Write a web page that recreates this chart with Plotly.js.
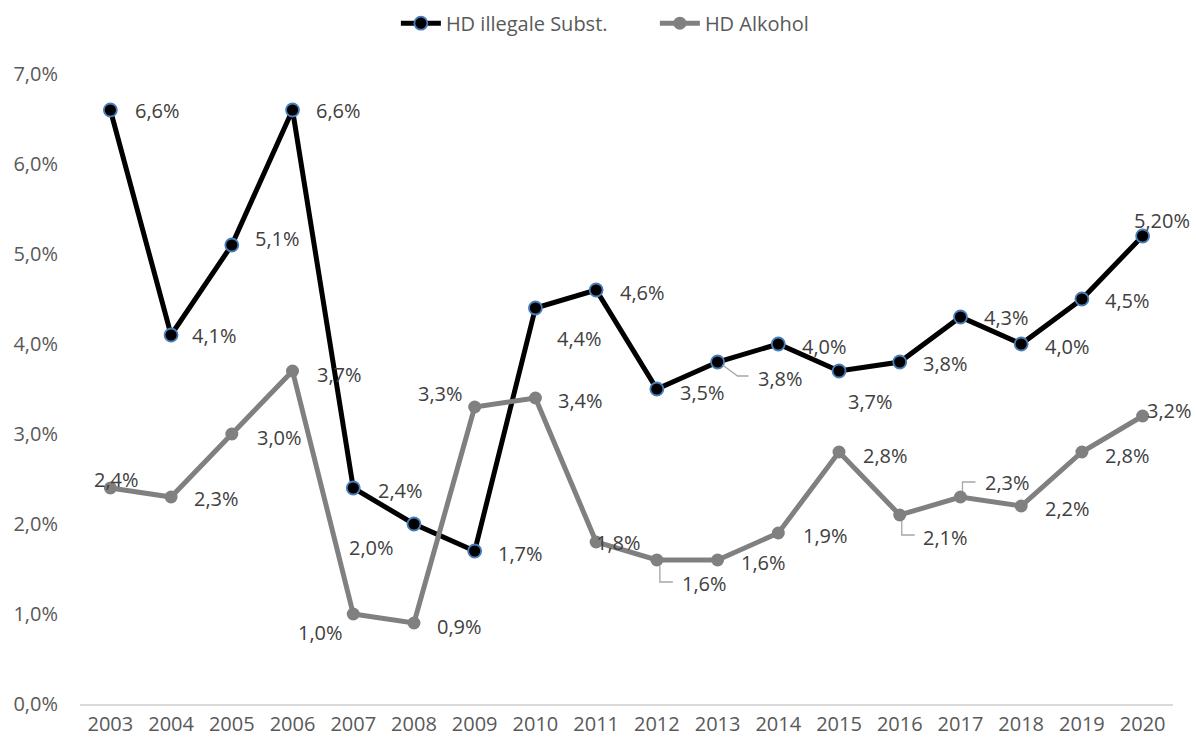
<!DOCTYPE html>
<html>
<head>
<meta charset="utf-8">
<script src="https://cdn.plot.ly/plotly-3.0.1.min.js"></script>
<style>html,body{margin:0;padding:0;background:#fff;}#chart{width:1196px;height:744px;}</style>
</head>
<body>
<div id="chart"></div>
<script>
// ---- data ----
const years = [2003, 2004, 2005, 2006, 2007, 2008, 2009, 2010, 2011, 2012, 2013, 2014, 2015, 2016, 2017, 2018, 2019, 2020];
const illegal = [6.6, 4.1, 5.1, 6.6, 2.4, 2.0, 1.7, 4.4, 4.6, 3.5, 3.8, 4.0, 3.7, 3.8, 4.3, 4.0, 4.5, 5.2];
const alkohol = [2.4, 2.3, 3.0, 3.7, 1.0, 0.9, 3.3, 3.4, 1.8, 1.6, 1.6, 1.9, 2.8, 2.1, 2.3, 2.2, 2.8, 3.2];
const illegalLabels = ["6,6%", "4,1%", "5,1%", "6,6%", "2,4%", "2,0%", "1,7%", "4,4%", "4,6%", "3,5%", "3,8%", "4,0%", "3,7%", "3,8%", "4,3%", "4,0%", "4,5%", "5,20%"];
const alkoholLabels = ["2,4%", "2,3%", "3,0%", "3,7%", "1,0%", "0,9%", "3,3%", "3,4%", "1,8%", "1,6%", "1,6%", "1,9%", "2,8%", "2,1%", "2,3%", "2,2%", "2,8%", "3,2%"];
const seriesNames = ["HD illegale Subst.", "HD Alkohol"];
const yTicks = [0, 1, 2, 3, 4, 5, 6, 7];
const yTickLabels = ["0,0%", "1,0%", "2,0%", "3,0%", "4,0%", "5,0%", "6,0%", "7,0%"];
const xTickLabels = ["2003", "2004", "2005", "2006", "2007", "2008", "2009", "2010", "2011", "2012", "2013", "2014", "2015", "2016", "2017", "2018", "2019", "2020"];

// ---- label placement (pixel offsets from the point, screen coordinates: +dy = down) ----
const illegalOffsets = [[47,0],[43,0],[46,-7],[46,0],[47,2],[-42,23],[46,2],[44,30],[46,2],[46,3],[63,16],[46,2],[31,30],[46,1],[46,0],[46,2],[46,1],[19,-16]];
const alkoholOffsets = [[6,-9],[45,1],[48,3],[47,3],[-33,18],[46,3],[-34,-14],[45,2],[22,0],[48,23],[46,2],[47,2],[46,3],[46,22],[47,-15],[46,2],[46,3],[27,-6]];
// leader lines: [series, index, path in pixels relative to point, y up]
const leaders = [
  [0, 10, "M 5,-3 L 20,-14 L 31,-14"],
  [1, 9, "M 3,-6 L 3,-22 L 16,-22"],
  [1, 13, "M 2,-6 L 2,-20 L 15,-20"],
  [1, 14, "M 2,6 L 2,15 L 15,15"]
];

const FONT = "Open Sans, Noto Sans, sans-serif";

const traces = [
  {
    x: years, y: illegal, name: seriesNames[0], type: "scatter", mode: "lines+markers",
    line: {color: "#000000", width: 5},
    marker: {color: "#000000", size: 13, line: {color: "#4a7ebb", width: 1.8}},
    hoverinfo: "skip"
  },
  {
    x: years, y: alkohol, name: seriesNames[1], type: "scatter", mode: "lines+markers",
    line: {color: "#808080", width: 5},
    marker: {color: "#808080", size: 13},
    hoverinfo: "skip"
  }
];

const annotations = [];
function addLabels(vals, labels, offs) {
  for (let i = 0; i < years.length; i++) {
    annotations.push({
      x: years[i], y: vals[i], xref: "x", yref: "y", text: labels[i], showarrow: false,
      xanchor: "center", yanchor: "middle",
      xshift: offs[i][0], yshift: -offs[i][1],
      font: {family: FONT, size: 20, color: "#404040"}
    });
  }
}
addLabels(illegal, illegalLabels, illegalOffsets);
addLabels(alkohol, alkoholLabels, alkoholOffsets);

const shapes = leaders.map(function(l) {
  const vals = l[0] === 0 ? illegal : alkohol;
  return {
    type: "path", xref: "x", yref: "y", xsizemode: "pixel", ysizemode: "pixel",
    xanchor: years[l[1]], yanchor: vals[l[1]], path: l[2],
    line: {color: "#a6a6a6", width: 1.3}
  };
});

const layout = {
  width: 1196, height: 744,
  margin: {l: 80, r: 23, t: 74, b: 40},
  paper_bgcolor: "#ffffff", plot_bgcolor: "#ffffff",
  font: {family: FONT, size: 20, color: "#595959"},
  showlegend: true,
  legend: {
    orientation: "h", x: 0.331, xanchor: "left", xref: "container",
    y: 0.995, yanchor: "top", yref: "container",
    font: {family: FONT, size: 20, color: "#595959"},
    itemwidth: 40, traceorder: "normal",
    entrywidth: 204, entrywidthmode: "pixels"
  },
  xaxis: {
    range: [2002.5, 2020.5], tickmode: "array", tickvals: years, ticktext: xTickLabels,
    showgrid: false, zeroline: false, showline: true, linecolor: "#d9d9d9", linewidth: 1.5,
    ticks: "", ticklabelstandoff: 1,
    tickfont: {family: FONT, size: 20, color: "#595959"}, fixedrange: true
  },
  yaxis: {
    range: [0, 7], tickmode: "array", tickvals: yTicks, ticktext: yTickLabels,
    showgrid: false, zeroline: false, showline: false, ticks: "", ticklabelstandoff: 21,
    tickfont: {family: FONT, size: 20, color: "#595959"}, fixedrange: true
  },
  annotations: annotations,
  shapes: shapes
};

Plotly.newPlot("chart", traces, layout, {staticPlot: true, displayModeBar: false});
</script>
</body>
</html>
